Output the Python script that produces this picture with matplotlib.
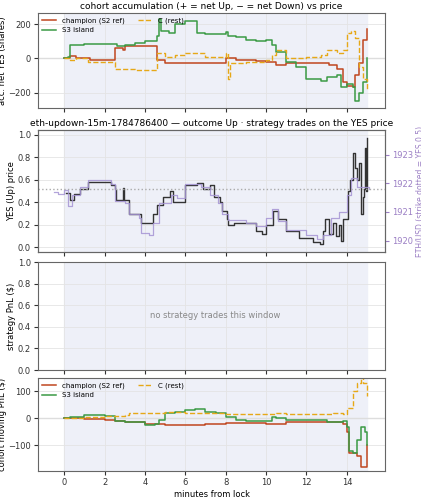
import matplotlib
matplotlib.use("Agg")
import matplotlib.pyplot as plt

# cohort accumulation (net YES shares)
acc_champ_t = [0, 0.3, 0.6, 1.3, 2.5, 2.9, 3.0, 3.5, 4.6, 5.0, 6.0, 8.0, 8.5, 9.5, 10.0, 10.5, 11.0, 12.0, 13.0, 13.1, 13.5, 13.8, 14.0, 14.3, 14.4, 14.6, 14.8, 15.0]
acc_champ_v = [0, 15, 5, -10, 60, 50, 70, 75, -10, -25, -30, 0, -10, -15, -20, -40, -30, -25, -30, -40, -60, -140, -160, -170, -100, -30, 110, 170]
acc_s3_t = [0, 0.2, 0.3, 1.0, 2.0, 2.6, 3.0, 3.5, 4.0, 4.6, 4.7, 4.8, 5.2, 5.5, 6.0, 6.5, 6.6, 7.0, 8.0, 8.1, 8.5, 9.0, 9.5, 10.0, 10.3, 10.5, 11.0, 11.5, 12.0, 12.7, 13.0, 13.5, 13.7, 14.0, 14.3, 14.4, 14.6, 14.8, 15.0]
acc_s3_v = [0, 10, 80, 85, 85, 75, 80, 90, 100, 130, 230, 160, 150, 200, 220, 220, 150, 145, 155, 130, 125, 110, 100, 105, 80, 40, -20, -50, -120, -130, -110, -100, -170, -150, -165, -250, -200, -140, 0]
acc_c_t = [0, 0.3, 0.6, 1.2, 2.5, 3.0, 3.5, 4.6, 5.0, 5.5, 6.0, 7.0, 8.0, 8.1, 8.2, 9.0, 10.0, 10.3, 10.5, 11.0, 12.0, 12.7, 13.0, 13.5, 13.8, 14.0, 14.2, 14.4, 14.6, 14.8, 15.0]
acc_c_v = [0, -10, 5, -20, -60, -60, -70, 30, 10, 20, 30, 10, 30, -120, -30, -20, -10, 20, 50, 0, 10, 20, 50, 30, 50, 150, 160, 120, -50, -120, -180]

# YES price and ETH/USD
yes_t = [0.1, 0.3, 0.5, 0.8, 1.2, 2.3, 2.5, 2.55, 2.9, 2.95, 3.2, 3.8, 4.3, 4.4, 4.6, 4.9, 5.25, 5.4, 6.0, 6.6, 6.9, 7.2, 7.4, 7.7, 7.8, 8.05, 8.1, 8.4, 9.4, 9.5, 9.8, 10.0, 10.35, 10.6, 11.0, 11.65, 12.3, 12.65, 12.8, 12.9, 13.1, 13.3, 13.45, 13.6, 13.7, 13.8, 14.05, 14.15, 14.3, 14.4, 14.5, 14.6, 14.7, 14.8, 14.85, 14.9, 14.95, 15.0]
yes_v = [0.48, 0.42, 0.47, 0.52, 0.58, 0.55, 0.52, 0.42, 0.53, 0.42, 0.30, 0.22, 0.22, 0.30, 0.38, 0.45, 0.50, 0.40, 0.55, 0.57, 0.52, 0.55, 0.45, 0.40, 0.32, 0.25, 0.20, 0.22, 0.22, 0.15, 0.12, 0.20, 0.32, 0.25, 0.15, 0.08, 0.05, 0.03, 0.15, 0.25, 0.12, 0.22, 0.10, 0.20, 0.06, 0.25, 0.50, 0.60, 0.84, 0.70, 0.60, 0.75, 0.30, 0.45, 0.52, 0.88, 0.50, 0.97]
eth_t = [-0.5, -0.3, 0.0, 0.2, 0.4, 0.8, 1.2, 2.3, 2.5, 3.0, 3.2, 3.7, 3.8, 4.2, 4.4, 4.7, 5.3, 5.6, 6.0, 6.8, 7.2, 7.6, 7.8, 8.1, 9.0, 9.5, 10.0, 10.3, 10.6, 11.0, 12.0, 12.5, 12.8, 13.2, 13.6, 14.0, 14.2, 14.5, 15.1]
eth_v = [1921.71, 1921.63, 1921.75, 1921.19, 1921.59, 1921.87, 1922.11, 1921.99, 1921.39, 1921.31, 1920.91, 1920.80, 1920.28, 1920.20, 1920.60, 1921.31, 1921.59, 1921.47, 1921.99, 1921.87, 1921.59, 1921.31, 1920.91, 1920.71, 1920.60, 1920.52, 1920.80, 1921.11, 1920.67, 1920.36, 1920.20, 1920.04, 1920.20, 1920.80, 1920.99, 1921.59, 1922.19, 1921.87, 1921.79]
eth_strike = 1921.79

# cohort moving PnL
pnl_champ_t = [0, 1, 2, 2.5, 3, 4, 5, 6, 7, 8, 9, 10, 11, 12, 13, 13.8, 14.0, 14.1, 14.5, 14.7, 15.0]
pnl_champ_v = [0, -3, -5, -8, -15, -20, -25, -25, -22, -18, -18, -20, -15, -15, -12, -20, -50, -130, -140, -180, -100]
pnl_s3_t = [0, 0.3, 1, 2, 2.5, 3, 3.5, 4, 4.5, 4.7, 5, 5.5, 6, 6.5, 7, 7.5, 8, 8.5, 9, 10, 10.3, 10.5, 11, 12.5, 13, 13.5, 13.8, 14.0, 14.1, 14.3, 14.5, 14.7, 14.9, 15.0]
pnl_s3_v = [0, 5, 12, 8, -8, -12, -15, -25, -20, -5, 20, 25, 30, 35, 25, 20, 5, -5, -8, -8, 5, 0, -5, -5, -12, -15, -10, -30, -120, -130, -80, -30, -50, -100]
pnl_c_t = [0, 1, 2, 3, 3.2, 4, 5, 6, 7, 8, 9, 10, 10.5, 11, 12, 13, 13.3, 13.8, 14.0, 14.3, 14.5, 14.7, 14.8, 15.0]
pnl_c_v = [0, 5, 8, 12, 20, 22, 25, 22, 20, 15, 15, 18, 20, 18, 15, 15, 20, 15, 40, 100, 130, 170, 130, 85]

RED = "#c0461f"
GREEN = "#3a9a45"
GOLD = "#e6a817"
SHADE = "#eef0f8"

plt.rcParams["font.size"] = 6
fig = plt.figure(figsize=(4.21, 5.0), dpi=100)
ax1 = fig.add_axes([0.09, 0.784, 0.825, 0.19])
ax2 = fig.add_axes([0.09, 0.496, 0.825, 0.244])
ax3 = fig.add_axes([0.09, 0.26, 0.825, 0.216])
ax4 = fig.add_axes([0.09, 0.058, 0.825, 0.186])

for ax in (ax1, ax2, ax3, ax4):
    ax.axvspan(0, 15, color=SHADE, zorder=0)
    ax.grid(color="#e4e4e4", linewidth=0.6)
    ax.set_axisbelow(True)
    ax.set_xlim(-1.3, 15.9)
    ax.set_xticks(range(0, 16, 2))
    for s in ax.spines.values():
        s.set_color("#666666")
    ax.tick_params(labelsize=6, colors="#333333", length=3, pad=2)

for ax in (ax1, ax2, ax3):
    ax.tick_params(labelbottom=False)

ax1.axhline(0, color="#dddddd", linewidth=1)
ax1.step(acc_champ_t, acc_champ_v, where="post", color=RED, lw=1.1, label="champion (S2 ref)")
ax1.step(acc_s3_t, acc_s3_v, where="post", color=GREEN, lw=1.1, label="S3 island")
ax1.step(acc_c_t, acc_c_v, where="post", color=GOLD, lw=1.0, ls="--", label="C (rest)")
ax1.set_ylim(-290, 265)
ax1.set_ylabel("acc. net YES (shares)", labelpad=1)
ax1.set_title("cohort accumulation (+ = net Up, \u2212 = net Down) vs price", fontsize=6.5, pad=3)
ax1.legend(loc="upper left", ncol=2, fontsize=5, frameon=False, handlelength=2, borderaxespad=0.2)

ax2.step(yes_t, yes_v, where="post", color="#333333", lw=1.0, zorder=3)
ax2.set_ylim(-0.04, 1.04)
ax2.set_ylabel("YES (Up) price", labelpad=1)
ax2.set_title("eth-updown-15m-1784786400 \u2014 outcome Up \u00b7 strategy trades on the YES price", fontsize=6.5, pad=3)
ax2b = ax2.twinx()
ax2b.step(eth_t, eth_v, where="post", color="#a594d4", lw=0.9, alpha=0.85)
ax2b.axhline(eth_strike, color="#aaaaaa", ls=":", lw=1)
ax2b.set_ylim(1919.6, 1923.86)
ax2b.set_yticks([1920, 1921, 1922, 1923])
ax2b.tick_params(labelsize=6, colors="#9b7fc4", length=3, pad=2)
ax2b.set_ylabel("ETH/USD (strike dotted = YES 0.5)", color="#9b7fc4", fontsize=5.5, labelpad=2)
for s in ax2b.spines.values():
    s.set_color("#666666")

ax3.set_ylim(0, 1)
ax3.set_ylabel("strategy PnL ($)", labelpad=1)
ax3.text(7.5, 0.5, "no strategy trades this window", ha="center", va="center", color="#888888", fontsize=6)

ax4.axhline(0, color="#dddddd", linewidth=1)
ax4.step(pnl_champ_t, pnl_champ_v, where="post", color=RED, lw=1.1, label="champion (S2 ref)")
ax4.step(pnl_s3_t, pnl_s3_v, where="post", color=GREEN, lw=1.1, label="S3 island")
ax4.step(pnl_c_t, pnl_c_v, where="post", color=GOLD, lw=1.0, ls="--", label="C (rest)")
ax4.set_ylim(-195, 150)
ax4.set_yticks([-100, 0, 100])
ax4.set_ylabel("cohort moving PnL ($)", labelpad=1)
ax4.set_xlabel("minutes from lock", labelpad=2)
ax4.legend(loc="upper left", ncol=2, fontsize=5, frameon=False, handlelength=2, borderaxespad=0.2)

fig.savefig("out.png", dpi=100)
